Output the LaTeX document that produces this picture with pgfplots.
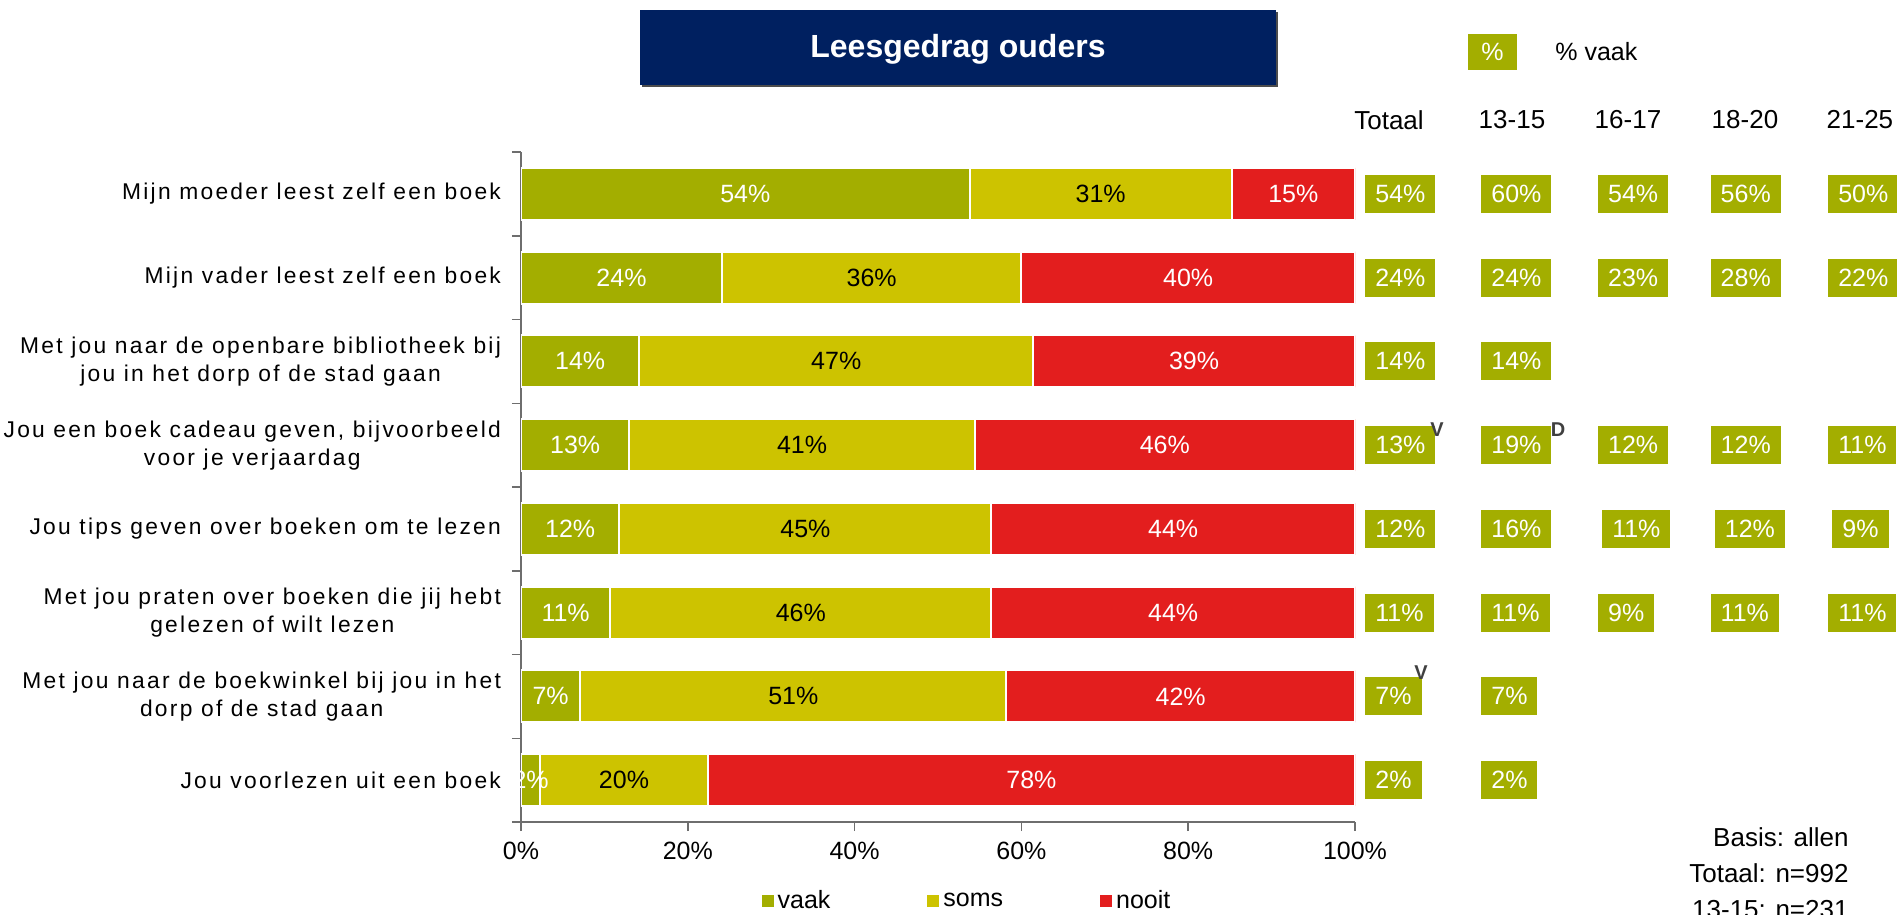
\documentclass[border=0pt]{standalone}
\usepackage{fontspec}
\setmainfont{Liberation Sans}
\newfontfamily\catfont[LetterSpace=10]{Liberation Sans}
\usepackage{pgfplots}
\usepackage{pgfplotstable}
\pgfplotsset{compat=1.18}
\definecolor{cvaak}{RGB}{163,174,0}
\definecolor{csoms}{RGB}{205,195,0}
\definecolor{cnooit}{RGB}{227,30,30}
\definecolor{navy}{RGB}{0,32,96}
\definecolor{axgray}{RGB}{110,110,110}
\definecolor{mgray}{RGB}{64,64,64}
\newcommand\valfont{\fontsize{12.5bp}{14bp}\selectfont}
\newcommand\txtfont{\fontsize{12.5bp}{14bp}\selectfont}
\newcommand\hdfont{\fontsize{13bp}{15bp}\selectfont}
\newcommand\labfont{\catfont\fontsize{11.4bp}{14bp}\selectfont}

\pgfplotstableread{
idx vaak soms nooit
8 53.8 31.4 14.8
7 24.1 35.9 40.0
6 14.2 47.2 38.6
5 13.0 41.4 45.6
4 11.8 44.6 43.6
3 10.7 45.7 43.6
2 7.1 51.1 41.8
1 2.3 20.1 77.6
}\bars

\pgfplotstableread{
x y v
101.2 8 54
115.1 8 60
129.1 8 54
142.6 8 56
156.7 8 50
101.2 7 24
115.1 7 24
129.1 7 23
142.6 7 28
156.7 7 22
101.2 6 14
115.1 6 14
101.2 5 13
115.1 5 19
129.1 5 12
142.6 5 12
156.7 5 11
101.2 4 12
115.1 4 16
129.6 4 11
143.1 4 12
157.2 4 9
101.2 3 11
115.1 3 11
129.1 3 9
142.6 3 11
156.7 3 11
101.2 2 7
115.1 2 7
101.2 1 2
115.1 1 2
}\boxes

\begin{document}
\begin{tikzpicture}
\useasboundingbox (0,0) rectangle (948.5bp,-457.5bp);
\begin{axis}[
  at={(260.5bp,-411bp)}, anchor=south west,
  scale only axis, width=417bp, height=335bp,
  xbar stacked, bar width=26bp,
  xmin=0, xmax=100, ymin=0.5, ymax=8.5,
  axis lines*=left,
  axis line style={axgray, line width=0.75bp},
  tick style={axgray, line width=0.75bp},
  tick align=outside, major tick length=4.5bp,
  xtick={0,20,...,100},
  xticklabel={\pgfmathprintnumber[assume math mode=true]{\tick}\%},
  xticklabel style={font=\valfont, text=black, yshift=-2bp},
  ytick={0.5,1.5,...,8.5},
  yticklabels={
    {Jou voorlezen uit een boek},
    {Met jou naar de boekwinkel bij jou in het\\dorp of de stad gaan},
    {Met jou praten over boeken die jij hebt\\gelezen of wilt lezen},
    {Jou tips geven over boeken om te lezen},
    {Jou een boek cadeau geven, bijvoorbeeld\\voor je verjaardag},
    {Met jou naar de openbare bibliotheek bij\\jou in het dorp of de stad gaan},
    {Mijn vader leest zelf een boek},
    {Mijn moeder leest zelf een boek},
    {}},
  yticklabel style={font=\labfont, align=center, yshift=20.94bp, xshift=-2bp, text=black},
  legend columns=3,
  legend style={at={(0.536,-0.118)}, anchor=center, draw=none, font=\txtfont,
    /tikz/every even column/.append style={column sep=46.5bp}},
  legend image code/.code={\fill[#1, draw=none] (0bp,-3bp) rectangle (6bp,3bp);},
]
\addplot[fill=cvaak, draw=white, line width=1bp,
  point meta=explicit,
  nodes near coords={\pgfmathprintnumber[precision=0,assume math mode=true]{\pgfplotspointmeta}\%},
  every node near coord/.append style={anchor=center, text=white, font=\valfont}]
  table[x=vaak, y=idx, meta=vaak] {\bars};
\addplot[fill=csoms, draw=white, line width=1bp,
  point meta=explicit,
  nodes near coords={\pgfmathprintnumber[precision=0,assume math mode=true]{\pgfplotspointmeta}\%},
  every node near coord/.append style={anchor=center, text=black, font=\valfont}]
  table[x=soms, y=idx, meta=soms] {\bars};
\addplot[fill=cnooit, draw=white, line width=1bp,
  point meta=explicit,
  nodes near coords={\pgfmathprintnumber[precision=0,assume math mode=true]{\pgfplotspointmeta}\%},
  every node near coord/.append style={anchor=center, text=white, font=\valfont}]
  table[x=nooit, y=idx, meta=nooit] {\bars};
\legend{vaak,soms,nooit}
\end{axis}

\begin{axis}[
  at={(260.5bp,-411bp)}, anchor=south west,
  scale only axis, width=417bp, height=335bp,
  xmin=0, xmax=100, ymin=0.5, ymax=8.5,
  hide axis, clip=false]
\addplot[only marks, mark=none, point meta=explicit,
  nodes near coords={\pgfmathprintnumber[assume math mode=true]{\pgfplotspointmeta}\%},
  every node near coord/.append style={anchor=west, fill=cvaak, text=white, font=\valfont,
    inner xsep=5bp, inner ysep=0pt, minimum height=19bp}]
  table[x=x, y=y, meta=v] {\boxes};
\end{axis}

\begin{scope}[x=0.5bp, y=-0.5bp]
  % title
  \fill[black!70] (642,12) rectangle (1278,87);
  \fill[navy] (640,10) rectangle (1276,85);
  \node[text=white, font=\bfseries\fontsize{16bp}{18bp}\selectfont] at (958,49) {Leesgedrag ouders};
  % % vaak key
  \fill[cvaak] (1468,34) rectangle (1517,70);
  \node[text=white, font=\valfont] at (1492.5,52) {\%};
  \node[anchor=west, inner sep=0pt, font=\txtfont] at (1555,52) {\% vaak};
  % headers
  \node[font=\hdfont] at (1389,120) {Totaal};
  \node[font=\hdfont] at (1512,120) {13-15};
  \node[font=\hdfont] at (1628,120) {16-17};
  \node[font=\hdfont] at (1745,120) {18-20};
  \node[font=\hdfont] at (1860,120) {21-25};
  % significance marks
  \node[text=mgray, font=\bfseries\fontsize{10bp}{12bp}\selectfont] at (1437,430) {V};
  \node[text=mgray, font=\bfseries\fontsize{10bp}{12bp}\selectfont] at (1558,430) {D};
  \node[text=mgray, font=\bfseries\fontsize{10bp}{12bp}\selectfont] at (1421,673) {V};
  % base text
  \node[anchor=east, inner sep=0pt, font=\hdfont] at (1849,837) {Basis: allen};
  \node[anchor=east, inner sep=0pt, font=\hdfont] at (1849,873) {Totaal: n=992};
  \node[anchor=east, inner sep=0pt, font=\hdfont] at (1849,910) {13-15: n=231};
\end{scope}
\end{tikzpicture}
\end{document}
